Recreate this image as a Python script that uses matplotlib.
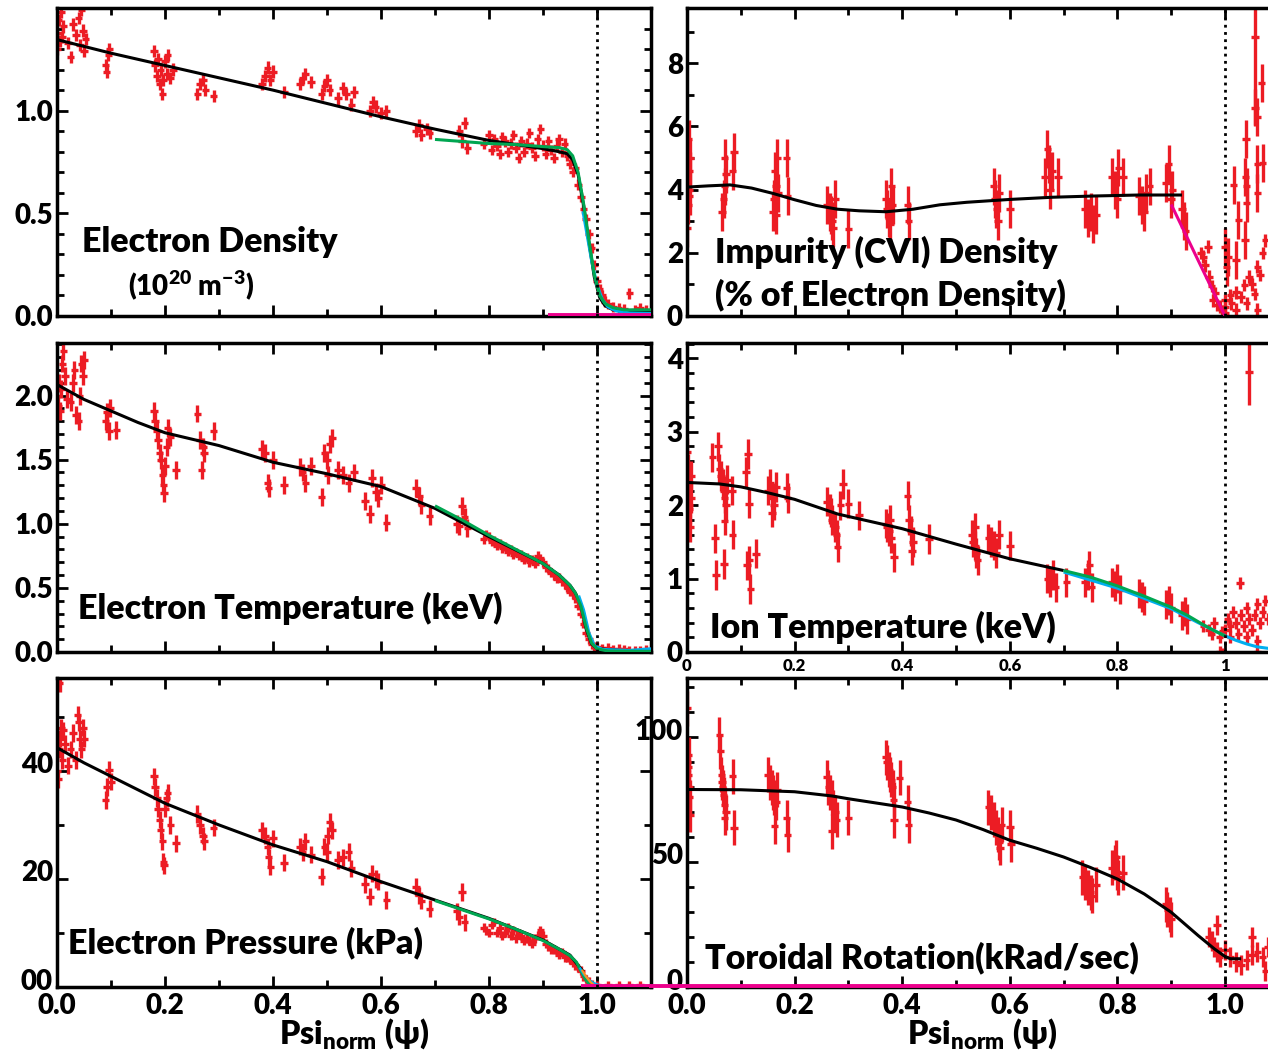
import numpy as np
import matplotlib
matplotlib.use("Agg")
import matplotlib.pyplot as plt
import matplotlib.transforms as mtransforms
from matplotlib.ticker import MultipleLocator, FixedLocator

plt.rcParams['font.family'] = ['Lato', 'DejaVu Sans']
plt.rcParams['font.weight'] = 'heavy'
plt.rcParams['axes.labelweight'] = 'heavy'
plt.rcParams['mathtext.fontset'] = 'custom'
plt.rcParams['mathtext.rm'] = 'Lato:heavy'
plt.rcParams['mathtext.bf'] = 'Lato:heavy'
plt.rcParams['mathtext.it'] = 'Lato:heavy'

RED = '#ec1c24'
GREEN = '#00a651'
CYAN = '#00aeef'
MAGENTA = '#ec008c'
ORANGE = '#f7941d'
WEIGHT = 'heavy'

# ---------------- electron density ----------------
ne_core = [[0.0, 1.38], [0.0, 1.30], [0.003, 1.44], [0.005, 1.34], [0.008, 1.48], [0.01, 1.36],
           [0.012, 1.41], [0.02, 1.33], [0.025, 1.26], [0.03, 1.42], [0.035, 1.37], [0.04, 1.45],
           [0.043, 1.32], [0.045, 1.49], [0.048, 1.39], [0.05, 1.29], [0.053, 1.35],
           [0.09, 1.22], [0.092, 1.19], [0.095, 1.27], [0.097, 1.30],
           [0.18, 1.29], [0.182, 1.22], [0.185, 1.17], [0.187, 1.25], [0.19, 1.13], [0.192, 1.20],
           [0.195, 1.08], [0.197, 1.15], [0.20, 1.24], [0.203, 1.18], [0.205, 1.27], [0.21, 1.16],
           [0.215, 1.20], [0.26, 1.08], [0.265, 1.13], [0.27, 1.15], [0.275, 1.10], [0.29, 1.07],
           [0.38, 1.13], [0.385, 1.17], [0.39, 1.21], [0.395, 1.15], [0.40, 1.19], [0.42, 1.09],
           [0.45, 1.13], [0.455, 1.16], [0.46, 1.18], [0.47, 1.14],
           [0.49, 1.08], [0.495, 1.12], [0.50, 1.15], [0.505, 1.10],
           [0.52, 1.06], [0.53, 1.11], [0.535, 1.08], [0.545, 1.03], [0.55, 1.09],
           [0.58, 1.00], [0.585, 1.04], [0.59, 1.02], [0.60, 0.99], [0.61, 1.00],
           [0.665, 0.90], [0.67, 0.93], [0.675, 0.88], [0.685, 0.91], [0.69, 0.89],
           [0.745, 0.90], [0.75, 0.85], [0.755, 0.94], [0.76, 0.82]]
ne_edge = [[0.79, 0.84], [0.80, 0.88], [0.805, 0.81], [0.81, 0.86], [0.815, 0.83], [0.82, 0.79],
           [0.825, 0.87], [0.83, 0.85], [0.835, 0.80], [0.84, 0.84], [0.845, 0.88], [0.85, 0.82],
           [0.855, 0.77], [0.86, 0.85], [0.865, 0.80], [0.87, 0.84], [0.875, 0.89], [0.88, 0.82],
           [0.885, 0.78], [0.89, 0.86], [0.895, 0.91], [0.90, 0.83], [0.905, 0.79], [0.91, 0.85],
           [0.915, 0.81], [0.92, 0.77], [0.925, 0.83], [0.93, 0.86], [0.935, 0.80], [0.94, 0.84],
           [0.945, 0.78], [0.95, 0.74], [0.955, 0.70], [0.96, 0.72], [0.965, 0.64], [0.97, 0.58],
           [0.975, 0.52], [0.98, 0.47], [0.985, 0.40], [0.99, 0.33], [0.995, 0.25], [1.0, 0.17],
           [1.005, 0.13], [1.01, 0.10], [1.015, 0.07], [1.02, 0.06], [1.03, 0.045], [1.04, 0.04],
           [1.05, 0.035], [1.06, 0.11], [1.07, 0.03], [1.08, 0.04], [1.09, 0.03]]
ne_fit = [[0.0, 1.346], [0.1, 1.28], [0.2, 1.22], [0.3, 1.16], [0.4, 1.10], [0.5, 1.035],
          [0.6, 0.97], [0.7, 0.91], [0.8, 0.855], [0.9, 0.815], [0.93, 0.80], [0.945, 0.79],
          [0.955, 0.76], [0.965, 0.69], [0.975, 0.54], [0.985, 0.36], [0.995, 0.19],
          [1.005, 0.09], [1.015, 0.05], [1.03, 0.03], [1.1, 0.02]]
ne_green = [[0.70, 0.86], [0.75, 0.85], [0.80, 0.84], [0.85, 0.835], [0.90, 0.825], [0.93, 0.82],
            [0.945, 0.81], [0.955, 0.78], [0.965, 0.70], [0.975, 0.55], [0.985, 0.37],
            [0.995, 0.20], [1.005, 0.10], [1.015, 0.06], [1.03, 0.04], [1.05, 0.03], [1.1, 0.03]]
ne_cyan = [[0.974, 0.51], [0.98, 0.42], [0.99, 0.27], [1.0, 0.15], [1.01, 0.08], [1.02, 0.045],
           [1.035, 0.025], [1.06, 0.015], [1.1, 0.012]]
ne_magenta = [[0.91, 0.003], [1.1, 0.003]]

# ---------------- impurity density ----------------
imp_core = [[0.0, 2.8], [0.002, 3.5], [0.004, 4.0], [0.005, 4.6], [0.006, 5.0], [0.003, 5.6], [0.005, 3.8],
            [0.065, 3.3], [0.068, 3.7], [0.07, 4.1], [0.072, 4.5], [0.07, 5.0], [0.085, 4.6], [0.087, 5.2],
            [0.16, 3.3], [0.162, 3.7], [0.165, 4.1], [0.163, 4.6], [0.168, 5.0], [0.17, 3.9], [0.165, 3.2],
            [0.185, 5.0], [0.187, 3.8],
            [0.26, 3.5], [0.265, 3.3], [0.27, 3.0], [0.272, 2.8], [0.275, 3.7], [0.268, 3.2], [0.30, 2.75],
            [0.37, 3.7], [0.372, 3.4], [0.375, 3.1], [0.378, 2.9], [0.38, 4.1], [0.382, 3.5],
            [0.41, 3.5], [0.412, 3.0],
            [0.57, 4.1], [0.572, 3.7], [0.575, 3.4], [0.578, 3.0], [0.58, 3.9], [0.60, 3.4],
            [0.665, 4.4], [0.67, 5.3], [0.672, 4.8], [0.675, 4.0], [0.678, 4.6], [0.69, 4.4],
            [0.74, 3.4], [0.745, 3.1], [0.75, 3.3], [0.755, 2.9], [0.76, 3.2],
            [0.79, 4.4], [0.795, 4.0], [0.80, 3.7], [0.802, 4.7], [0.81, 4.4],
            [0.84, 3.8], [0.845, 3.5], [0.85, 3.3], [0.853, 3.9], [0.86, 4.1],
            [0.89, 4.2], [0.895, 4.8], [0.90, 3.7], [0.902, 4.0],
            [0.92, 3.4], [0.923, 3.0], [0.927, 2.7],
            [1.0, 2.2], [1.006, 1.88], [1.02, 1.77], [1.003, 1.56], [1.016, 4.15], [1.025, 3.04],
            [1.037, 2.4], [1.04, 3.57], [1.038, 4.4], [1.039, 5.6], [1.04, 4.1], [1.06, 4.8],
            [1.07, 4.83], [1.06, 3.9], [1.06, 6.3], [1.056, 6.6], [1.068, 7.37]]
imp_edge = [[0.955, 2.0], [0.96, 1.88], [0.963, 1.6], [0.968, 2.2], [0.97, 1.25], [0.975, 0.95],
            [0.978, 0.5], [0.982, 0.73], [0.986, 0.35], [0.99, 0.3], [0.995, 0.15], [1.0, 0.1],
            [1.0, 0.5], [1.01, 0.65], [1.02, 0.75], [1.03, 0.6], [1.036, 0.98], [1.045, 1.25],
            [1.05, 1.0], [1.06, 1.56], [1.07, 2.0], [1.075, 2.4], [1.065, 1.3], [1.0, 0.3],
            [1.02, 0.2], [1.06, 0.2], [1.04, 0.4], [1.012, 0.4], [1.055, 0.7]]
imp_big = [1.056, 8.84, 2.8]
imp_fit = [[0.0, 4.08], [0.04, 4.12], [0.08, 4.15], [0.12, 4.05], [0.16, 3.88], [0.20, 3.68],
           [0.24, 3.50], [0.28, 3.38], [0.32, 3.33], [0.37, 3.30], [0.42, 3.38], [0.47, 3.52],
           [0.52, 3.60], [0.60, 3.69], [0.68, 3.76], [0.76, 3.80], [0.84, 3.83], [0.92, 3.83]]
imp_magenta = [[0.90, 3.53], [1.0, 0.0]]

# ---------------- electron temperature ----------------
te_core = [[0.0, 2.0], [0.002, 1.92], [0.004, 2.1], [0.006, 1.88], [0.008, 2.05], [0.01, 2.25],
           [0.012, 2.35], [0.015, 2.15], [0.018, 1.97], [0.025, 1.95], [0.03, 2.1], [0.032, 2.2],
           [0.035, 1.85], [0.04, 1.8], [0.042, 2.0], [0.045, 2.25], [0.048, 2.15], [0.05, 2.28],
           [0.09, 1.8], [0.093, 1.87], [0.096, 1.72], [0.098, 1.9], [0.11, 1.73],
           [0.18, 1.88], [0.182, 1.8], [0.185, 1.72], [0.187, 1.65], [0.19, 1.55], [0.192, 1.5],
           [0.195, 1.38], [0.197, 1.3], [0.198, 1.24], [0.20, 1.45], [0.203, 1.6], [0.205, 1.75],
           [0.21, 1.68], [0.22, 1.42],
           [0.26, 1.86], [0.265, 1.65], [0.27, 1.6], [0.272, 1.55], [0.268, 1.42], [0.29, 1.72],
           [0.38, 1.58], [0.385, 1.55], [0.39, 1.32], [0.392, 1.28], [0.40, 1.5], [0.42, 1.3],
           [0.45, 1.44], [0.455, 1.4], [0.46, 1.32], [0.47, 1.45],
           [0.49, 1.21], [0.495, 1.55], [0.50, 1.5], [0.502, 1.38], [0.505, 1.62], [0.51, 1.67],
           [0.52, 1.42], [0.53, 1.38], [0.54, 1.32], [0.55, 1.4],
           [0.57, 1.18], [0.58, 1.08], [0.583, 1.36], [0.59, 1.25], [0.595, 1.2], [0.60, 1.3], [0.61, 1.01],
           [0.665, 1.28], [0.67, 1.22], [0.675, 1.15], [0.69, 1.06],
           [0.74, 1.0], [0.745, 0.98], [0.75, 1.14], [0.755, 1.05], [0.76, 0.97]]
te_edge = [[0.79, 0.88], [0.795, 0.92], [0.80, 0.9], [0.805, 0.86], [0.81, 0.87], [0.815, 0.83],
           [0.82, 0.85], [0.825, 0.81], [0.83, 0.82], [0.835, 0.78], [0.84, 0.8], [0.845, 0.76],
           [0.85, 0.78], [0.855, 0.75], [0.86, 0.76], [0.865, 0.72], [0.87, 0.74], [0.875, 0.7],
           [0.88, 0.72], [0.885, 0.69], [0.89, 0.75], [0.895, 0.73], [0.90, 0.7], [0.905, 0.66],
           [0.91, 0.65], [0.915, 0.62], [0.92, 0.6], [0.925, 0.57], [0.93, 0.58], [0.935, 0.55],
           [0.94, 0.53], [0.945, 0.5], [0.95, 0.47], [0.955, 0.45], [0.96, 0.42], [0.965, 0.36],
           [0.97, 0.3], [0.975, 0.22], [0.98, 0.15], [0.985, 0.1], [0.99, 0.06], [0.995, 0.04],
           [1.0, 0.04], [1.01, 0.03], [1.02, 0.035], [1.03, 0.02], [1.04, 0.025], [1.05, 0.02],
           [1.06, 0.01], [1.07, 0.015], [1.08, 0.01], [1.09, 0.02]]
te_fit = [[0.0, 2.086], [0.05, 1.97], [0.1, 1.88], [0.15, 1.79], [0.2, 1.71], [0.3, 1.61],
          [0.4, 1.48], [0.5, 1.39], [0.6, 1.29], [0.7, 1.12], [0.8, 0.90], [0.9, 0.69],
          [0.93, 0.60], [0.95, 0.52], [0.96, 0.46], [0.97, 0.37], [0.98, 0.18], [0.99, 0.065],
          [1.0, 0.026], [1.05, 0.01], [1.1, 0.005]]
te_green = [[0.70, 1.14], [0.75, 1.03], [0.80, 0.91], [0.85, 0.80], [0.90, 0.69], [0.93, 0.60],
            [0.95, 0.52], [0.96, 0.46], [0.97, 0.36], [0.98, 0.19], [0.99, 0.07], [1.0, 0.025],
            [1.02, 0.008], [1.1, 0.005]]
te_cyan = [[0.966, 0.44], [0.975, 0.33], [0.985, 0.15], [0.995, 0.05], [1.01, 0.02],
           [1.06, 0.012], [1.1, 0.025]]

# ---------------- ion temperature ----------------
ti_core = [[0.0, 2.72], [0.002, 2.5], [0.003, 2.2], [0.004, 2.0], [0.005, 1.95], [0.006, 1.7],
           [0.007, 2.4], [0.008, 2.1], [0.047, 2.65], [0.052, 1.55], [0.054, 1.05], [0.058, 2.8],
           [0.06, 2.5], [0.063, 2.4], [0.066, 2.3], [0.068, 2.2], [0.07, 2.1], [0.072, 2.0],
           [0.07, 1.79], [0.069, 1.2], [0.074, 2.35], [0.084, 2.2], [0.085, 1.6],
           [0.11, 2.45], [0.113, 2.7], [0.115, 2.02], [0.112, 1.18], [0.116, 1.25], [0.118, 0.86],
           [0.128, 1.34], [0.15, 2.2], [0.155, 2.3], [0.16, 2.1], [0.162, 2.0], [0.165, 2.25],
           [0.158, 1.9], [0.185, 2.24], [0.187, 2.1],
           [0.26, 2.05], [0.265, 1.95], [0.268, 1.9], [0.27, 1.8], [0.275, 1.7], [0.278, 1.6],
           [0.28, 1.43], [0.29, 2.29], [0.285, 2.0], [0.30, 2.02], [0.32, 1.86],
           [0.37, 1.75], [0.372, 1.7], [0.375, 1.65], [0.378, 1.8], [0.38, 1.55], [0.385, 1.29],
           [0.41, 2.13], [0.413, 1.8], [0.416, 1.65], [0.42, 1.5], [0.418, 1.38], [0.45, 1.54],
           [0.53, 1.6], [0.532, 1.5], [0.535, 1.45], [0.538, 1.35], [0.54, 1.25], [0.536, 1.7],
           [0.56, 1.55], [0.565, 1.5], [0.57, 1.45], [0.575, 1.35], [0.58, 1.6], [0.6, 1.45],
           [0.67, 1.0], [0.675, 0.95], [0.68, 1.05], [0.685, 0.88], [0.705, 0.95],
           [0.74, 0.95], [0.745, 1.05], [0.748, 1.18], [0.752, 0.88],
           [0.79, 0.95], [0.795, 0.9], [0.80, 1.0], [0.805, 0.85],
           [0.84, 0.8], [0.845, 0.75], [0.85, 0.7], [0.89, 0.65], [0.895, 0.7], [0.90, 0.6],
           [0.92, 0.5], [0.925, 0.55], [0.93, 0.45]]
ti_edge = [[0.96, 0.35], [0.97, 0.3], [0.975, 0.25], [0.98, 0.4], [0.99, 0.2], [0.995, 0.28],
           [1.0, 0.3], [1.005, 0.45], [1.01, 0.35], [1.015, 0.55], [1.02, 0.4], [1.025, 0.25],
           [1.03, 0.5], [1.035, 0.35], [1.04, 0.6], [1.045, 0.45], [1.05, 0.3], [1.055, 0.5],
           [1.06, 0.65], [1.065, 0.4], [1.07, 0.55], [1.075, 0.7], [1.08, 0.45], [1.01, 0.2],
           [1.04, 0.2], [1.06, 0.15], [1.028, 0.94], [0.99, 0.0], [0.995, -0.02], [1.06, 0.0]]
ti_big = [1.045, 3.82, 0.45]
ti_fit = [[0.0, 2.31], [0.06, 2.29], [0.1, 2.25], [0.15, 2.17], [0.2, 2.08], [0.28, 1.88],
          [0.4, 1.68], [0.5, 1.47], [0.6, 1.27], [0.7, 1.11]]
ti_green = [[0.70, 1.11], [0.75, 1.02], [0.80, 0.90], [0.85, 0.76], [0.90, 0.61], [0.93, 0.50],
            [0.96, 0.37], [0.98, 0.29], [1.0, 0.22]]
ti_cyan = [[0.70, 1.09], [0.80, 0.87], [0.90, 0.59], [0.95, 0.40], [1.0, 0.22], [1.02, 0.16],
           [1.04, 0.11], [1.06, 0.07], [1.08, 0.05], [1.1, 0.04]]

# ---------------- electron pressure ----------------
pe_core = [[0.0, 40], [0.002, 38.5], [0.004, 44], [0.006, 46], [0.008, 48], [0.01, 42],
           [0.012, 47.5], [0.015, 45], [0.02, 41], [0.025, 44], [0.03, 47], [0.035, 42],
           [0.038, 50.4], [0.04, 49], [0.042, 46], [0.045, 44], [0.048, 48], [0.05, 46], [0.005, 56.3],
           [0.09, 34.6], [0.093, 37], [0.096, 40.2], [0.1, 38],
           [0.18, 39], [0.182, 37], [0.185, 35], [0.187, 33], [0.19, 31], [0.192, 29], [0.195, 27],
           [0.197, 23.2], [0.198, 22.5], [0.2, 33], [0.203, 35], [0.205, 36], [0.21, 30], [0.22, 26.6],
           [0.26, 32], [0.265, 30], [0.27, 28], [0.272, 27], [0.29, 29.5],
           [0.38, 29], [0.385, 28], [0.39, 26], [0.392, 24], [0.395, 22.3], [0.40, 27.5], [0.42, 23],
           [0.45, 26], [0.455, 25], [0.46, 27], [0.47, 24.5],
           [0.49, 20.4], [0.495, 26], [0.50, 25], [0.502, 28], [0.505, 30.6], [0.51, 29],
           [0.52, 23.5], [0.53, 24], [0.54, 25], [0.545, 22],
           [0.57, 19], [0.58, 16.7], [0.583, 21], [0.59, 20], [0.595, 19.5], [0.61, 16.1],
           [0.665, 18.5], [0.67, 17], [0.675, 16], [0.69, 14.5],
           [0.74, 14], [0.745, 13], [0.75, 17.6], [0.755, 12]]
pe_edge = [[0.79, 11], [0.795, 10.5], [0.80, 10], [0.805, 11.5], [0.81, 12], [0.815, 10],
           [0.82, 11], [0.825, 9.5], [0.83, 10], [0.835, 11], [0.84, 9.5], [0.845, 10.5],
           [0.85, 9], [0.855, 10], [0.86, 9.5], [0.865, 8.5], [0.87, 9], [0.875, 8.5], [0.88, 8],
           [0.885, 9], [0.89, 9.5], [0.895, 10.5], [0.90, 9.5], [0.905, 8], [0.91, 7.5],
           [0.915, 7], [0.92, 7], [0.925, 6.5], [0.93, 6], [0.935, 6.5], [0.94, 5.5], [0.945, 5.5],
           [0.95, 5], [0.955, 4.5], [0.96, 4], [0.965, 3.5], [0.97, 3], [0.975, 2], [0.98, 1.5],
           [0.985, 1], [0.99, 0.5], [1.0, 0.3], [1.02, 0.3], [1.04, 0.3], [1.06, 0.3], [1.08, 0.3]]
pe_fit = [[0.0, 44.3], [0.05, 41.5], [0.1, 39.0], [0.2, 34.0], [0.3, 30.0], [0.4, 26.3],
          [0.5, 23.2], [0.6, 19.5], [0.7, 16.1], [0.8, 12.7], [0.9, 8.7], [0.95, 5.9],
          [0.965, 4.0], [0.975, 2.8]]
pe_green = [[0.70, 16.0], [0.75, 14.3], [0.80, 12.6], [0.85, 10.7], [0.90, 8.6], [0.93, 7.0],
            [0.95, 5.8], [0.962, 4.6], [0.97, 3.0], [0.978, 1.5], [0.985, 0.6], [0.99, 0.2]]
pe_cyan = [[0.968, 3.6], [0.975, 2.4], [0.985, 1.3], [0.995, 0.7], [1.005, 0.35], [1.02, 0.15],
           [1.04, 0.08]]
pe_orange = [[0.972, 3.2], [0.98, 1.9], [0.988, 0.9], [0.995, 0.3], [1.0, 0.1]]
pe_magenta = [[0.97, 0.15], [1.1, 0.15]]

# ---------------- toroidal rotation ----------------
rot_core = [[0.0, 111.5], [0.001, 90], [0.002, 88], [0.003, 85], [0.004, 80], [0.005, 76],
            [0.006, 69], [0.003, 93],
            [0.06, 101], [0.062, 94.3], [0.064, 85], [0.066, 80], [0.068, 77], [0.07, 73],
            [0.072, 70], [0.07, 67.7], [0.065, 82], [0.085, 84.3], [0.087, 63.7],
            [0.15, 85], [0.155, 82], [0.158, 80], [0.16, 78], [0.162, 76], [0.165, 74],
            [0.163, 64.4], [0.167, 79], [0.185, 67.7], [0.187, 61],
            [0.26, 84], [0.263, 80], [0.266, 78], [0.27, 76], [0.272, 72], [0.275, 70],
            [0.27, 62.4], [0.278, 67], [0.30, 67.7],
            [0.37, 92], [0.372, 90], [0.375, 87], [0.378, 85], [0.38, 83], [0.382, 80],
            [0.384, 75], [0.385, 66.8], [0.395, 83.7], [0.41, 74], [0.412, 64.7],
            [0.56, 72], [0.565, 70], [0.57, 67], [0.575, 64], [0.578, 61], [0.58, 58],
            [0.582, 55.8], [0.585, 65], [0.6, 64], [0.602, 57.1],
            [0.735, 44], [0.74, 42], [0.745, 40], [0.75, 38], [0.752, 36.5], [0.76, 41],
            [0.79, 47.8], [0.795, 50], [0.80, 46], [0.802, 44], [0.798, 52], [0.81, 45.8],
            [0.89, 33.2], [0.893, 31], [0.897, 29], [0.90, 27.2]]
rot_edge = [[0.97, 20], [0.975, 18.6], [0.98, 16], [0.985, 14], [0.99, 12], [0.985, 25],
            [1.0, 15], [1.01, 12], [1.02, 10], [1.03, 9], [1.04, 11], [1.05, 13], [1.05, 19.9],
            [1.06, 14], [1.07, 12], [1.075, 6.6], [1.08, 16], [1.09, 13]]
rot_fit = [[0.0, 79.0], [0.1, 78.9], [0.2, 78.1], [0.27, 76.4], [0.3, 75.3], [0.4, 72.0],
           [0.45, 69.6], [0.5, 66.8], [0.55, 63.0], [0.6, 58.7], [0.65, 55.5], [0.7, 52.0],
           [0.75, 47.8], [0.8, 43.2], [0.85, 37.2], [0.9, 29.9], [0.95, 20.6], [0.98, 15.3],
           [1.0, 12.2], [1.01, 11.3], [1.03, 11.3]]
rot_magenta = [[-0.07, 0.3], [1.1, 0.3]]

xticks_major = [0.0, 0.2, 0.4, 0.6, 0.8, 1.0]
xlabels_big = ['0.0', '0.2', '0.4', '0.6', '0.8', '1.0']
xlabels_small = ['0', '0.2', '0.4', '0.6', '0.8', '1']
psi_label = r'Psi$_{\mathbf{norm}}$ (ψ)'

W, H = 1268, 1052
fig = plt.figure(figsize=(W / 100, H / 100), dpi=100)


def make_axes(px_left, px_right, px_top, px_bottom):
    return fig.add_axes([px_left / W, 1 - px_bottom / H,
                         (px_right - px_left) / W, (px_bottom - px_top) / H])


def style(ax, ylim, yticks, ylabels, yminor):
    ax.set_xlim(0, 1.1)
    ax.set_ylim(*ylim)
    ax.xaxis.set_major_locator(FixedLocator(xticks_major))
    ax.xaxis.set_minor_locator(MultipleLocator(0.1))
    ax.yaxis.set_major_locator(FixedLocator(yticks))
    ax.yaxis.set_minor_locator(MultipleLocator(yminor))
    ax.set_yticklabels(ylabels, fontweight=WEIGHT)
    ax.tick_params(which='both', direction='in', top=True, right=True, width=2,
                   labelsize=20, pad=3)
    ax.tick_params(which='major', length=8)
    ax.tick_params(which='minor', length=5)
    for s in ax.spines.values():
        s.set_linewidth(2.5)
    ax.axvline(1.0, color='k', ls=(0, (1, 1.6)), lw=2, zorder=5)


def points(ax, pts, err, xerr=0.007):
    a = np.array(pts)
    ax.errorbar(a[:, 0], a[:, 1], yerr=err, xerr=xerr, fmt='none', ecolor=RED,
                elinewidth=2.4, capsize=0, zorder=2)


def curve(ax, pts, color, lw=2.2, z=3, **kw):
    a = np.array(pts)
    ax.plot(a[:, 0], a[:, 1], color=color, lw=lw, zorder=z, solid_capstyle='butt', **kw)


def label(ax, x, y, s, size=24.5, va='center'):
    ax.text(x, y, s, transform=ax.transAxes, fontsize=size, fontweight=WEIGHT,
            va=va, ha='left')


def bottom_axis(ax, xc):
    ax.set_xticklabels(xlabels_big, fontsize=20, fontweight=WEIGHT)
    ax.tick_params(axis='x', pad=4)
    ax.set_xlabel(psi_label, fontsize=23, fontweight=WEIGHT)
    ax.xaxis.set_label_coords(xc, -(1051 - 987) / 309)
    ax.xaxis.label.set_va('bottom')
    # lift the y tick labels a little so the lowest one clears the x tick labels
    shift = mtransforms.ScaledTranslation(0, 8 / 100, fig.dpi_scale_trans)
    for t in ax.get_yticklabels():
        t.set_transform(t.get_transform() + shift)


LX0, LX1 = 57, 651
RX0, RX1 = 687, 687 + 1.1 * 538
rows = [(8, 316), (343, 652), (678, 987)]

# electron density
ax = make_axes(LX0, LX1, *rows[0])
style(ax, (0, 1.5), [0.0, 0.5, 1.0], ['0.0', '0.5', '1.0'], 0.1)
points(ax, ne_core, 0.03)
points(ax, ne_edge, 0.025)
curve(ax, ne_fit, 'k')
curve(ax, ne_cyan, CYAN, z=4)
curve(ax, ne_green, GREEN, z=4)
curve(ax, ne_magenta, MAGENTA, lw=2.8, z=4)
ax.set_xticklabels([])
label(ax, 0.042, 0.24, 'Electron Density')
label(ax, 0.12, 0.068, r'(10$^{20}$ m$^{-3}$)', size=20, va='baseline')

# impurity density
ax = make_axes(RX0, RX1, *rows[0])
style(ax, (0, 9.75), [0, 2, 4, 6, 8], ['0', '2', '4', '6', '8'], 1)
points(ax, imp_core, 0.6)
points(ax, imp_edge, 0.2)
ax.errorbar([imp_big[0]], [imp_big[1]], yerr=imp_big[2], xerr=0.007, fmt='none',
            ecolor=RED, elinewidth=2.4, zorder=2)
curve(ax, imp_fit, 'k')
curve(ax, imp_magenta, MAGENTA, z=4)
ax.set_xticklabels([])
label(ax, 0.047, 0.205, 'Impurity (CVI) Density')
label(ax, 0.047, 0.068, '(% of Electron Density)')

# electron temperature
ax = make_axes(LX0, LX1, *rows[1])
style(ax, (0, 2.41), [0.0, 0.5, 1.0, 1.5, 2.0], ['0.0', '0.5', '1.0', '1.5', '2.0'], 0.1)
points(ax, te_core, 0.07)
points(ax, te_edge, 0.035)
curve(ax, te_fit, 'k')
curve(ax, te_cyan, CYAN, z=4)
curve(ax, te_green, GREEN, z=4)
ax.set_xticklabels([])
label(ax, 0.035, 0.142, 'Electron Temperature (keV)')

# ion temperature
ax = make_axes(RX0, RX1, *rows[1])
style(ax, (0, 4.21), [0, 1, 2, 3, 4], ['0', '1', '2', '3', '4'], 0.2)
points(ax, ti_core, 0.2)
points(ax, ti_edge, 0.08)
ax.errorbar([ti_big[0]], [ti_big[1]], yerr=ti_big[2], xerr=0.007, fmt='none',
            ecolor=RED, elinewidth=2.4, zorder=2)
curve(ax, ti_fit, 'k')
curve(ax, ti_cyan, CYAN, z=4)
curve(ax, ti_green, GREEN, z=4)
ax.set_xticklabels(xlabels_small, fontsize=12, fontweight=WEIGHT)
ax.tick_params(axis='x', pad=4)
label(ax, 0.039, 0.081, 'Ion Temperature (keV)')

# electron pressure
ax = make_axes(LX0, LX1, *rows[2])
style(ax, (0, 57.2), [0, 20, 40], ['00', '20', '40'], 10)
points(ax, pe_core, 1.6)
points(ax, pe_edge, 0.8)
curve(ax, pe_fit, 'k')
curve(ax, pe_green, GREEN, z=4)
curve(ax, pe_cyan, CYAN, lw=1.6, z=4)
curve(ax, pe_orange, ORANGE, lw=1.6, z=4)
curve(ax, pe_magenta, MAGENTA, lw=2.8, z=4)
bottom_axis(ax, 0.5)
label(ax, 0.0185, 0.142, 'Electron Pressure (kPa)')

# toroidal rotation
ax = make_axes(RX0, RX1, *rows[2])
style(ax, (0, 123.6), [0, 50, 100], ['0', '50', '100'], 10)
points(ax, rot_core, 7)
points(ax, rot_edge, 4)
curve(ax, rot_fit, 'k')
curve(ax, rot_magenta, MAGENTA, lw=2.8, z=4, clip_on=False)
bottom_axis(ax, 295 / (RX1 - RX0))
label(ax, 0.030, 0.094, 'Toroidal Rotation(kRad/sec)')

fig.savefig('out.png', dpi=100)
